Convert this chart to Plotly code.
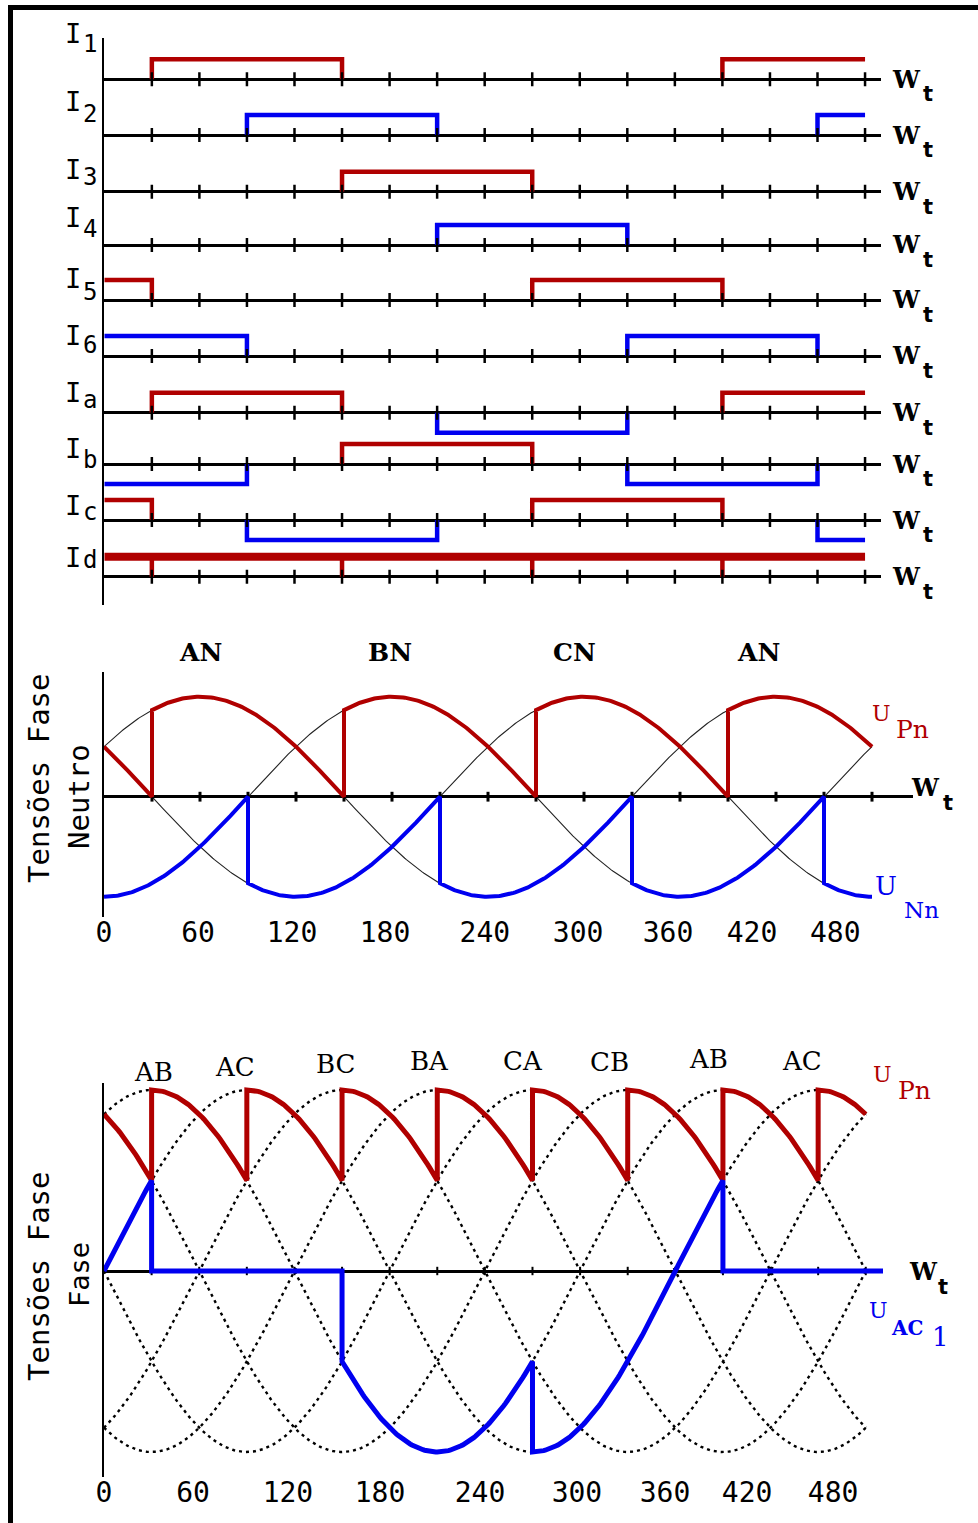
import numpy as np
import plotly.graph_objects as go

W, H = 978, 1523
RED = "#B00000"
BLUE = "#0000F0"

# ---------------- data ----------------
# thyristor currents I1..I6: start of conduction (deg), conduction width, period
fire_start = [30, 90, 150, 210, 270, 330]
conduction_width = 120
period = 360
x_end = 480
row_names = ["1", "2", "3", "4", "5", "6", "a", "b", "c", "d"]
# phase currents: (positive-group thyristor, negative-group thyristor)
phase_pairs = {"a": (1, 4), "b": (3, 6), "c": (5, 2)}
Id_level = 1.0
Id_marks = [30, 150, 270, 390]
tick_angles = list(range(30, 481, 30))

# phase-to-neutral voltages: peak angle (deg) and conducting phase per interval
phase_peak = {"AN": 60, "BN": 180, "CN": 300}
UPn_segments = [(0, 30, "CN"), (30, 150, "AN"), (150, 270, "BN"), (270, 390, "CN"), (390, 480, "AN")]
UNn_segments = [(0, 90, "BN"), (90, 210, "CN"), (210, 330, "AN"), (330, 450, "BN"), (450, 480, "CN")]
phase_label_text = ["AN", "BN", "CN", "AN"]
phase_label_pos = [60, 179, 294, 409]

# line-to-line voltages: peak angle (deg)
line_peak = {"AB": 30, "AC": 90, "BC": 150, "BA": 210, "CA": 270, "CB": 330}
UPn_ll_segments = [(0, 30, "CB"), (30, 90, "AB"), (90, 150, "AC"), (150, 210, "BC"), (210, 270, "BA"),
                   (270, 330, "CA"), (330, 390, "CB"), (390, 450, "AB"), (450, 480, "AC")]
UAC1_segments = [(0, 30, "AC"), (30, 150, None), (150, 270, "AB"), (270, 390, "AC"), (390, 491, None)]
ll_label_text = ["AB", "AC", "BC", "BA", "CA", "CB", "AB", "AC"]
ll_label_pos = [31, 82.5, 145.6, 205.4, 264, 318.8, 381.2, 439.8]

tick_text = ["0", "60", "120", "180", "240", "300", "360", "420", "480"]
tick_pos_mid = [0, 58.8, 117.5, 175.6, 238, 296.3, 352.5, 405, 457]
tick_pos_bot = [0, 56.1, 115.9, 173.9, 236.9, 298, 353.5, 405.2, 459.4]

# ---------------- layout geometry (pixels) ----------------
row_base = [79.3, 135, 191.7, 245, 300, 356, 412.7, 464, 520, 576.7]
row_half = 26
row_unit = 20
label_I_y = [33, 102, 170, 217, 278, 336, 393, 448, 505, 557]
label_sub_y = [44, 114, 177, 229, 292, 345, 400, 460, 512, 560]
ll_label_y = [1072, 1067, 1064, 1061, 1061, 1062, 1059, 1061]


def pxx(x):
    return x / W


def pxy(y):
    return 1 - y / H


def intervals(k):
    s = fire_start[k - 1]
    out = []
    for m in (-1, 0, 1):
        a, b = s + m * period, s + m * period + conduction_width
        a2, b2 = max(a, 0), min(b, x_end)
        if a2 < b2:
            out.append((a2, b2))
    return out


def pulse_path(ivs, level):
    xs, ys = [], []
    for a, b in ivs:
        if a > 0:
            xs += [a]
            ys += [0]
        xs += [a, b]
        ys += [level, level]
        if b < x_end:
            xs += [b]
            ys += [0]
        xs.append(None)
        ys.append(None)
    return xs, ys


def seg_curve(segs, peaks):
    xs, ys = [], []
    for a, b, name in segs:
        th = np.linspace(a, b, int(b - a) + 1)
        if name is None:
            v = np.zeros_like(th)
        else:
            v = np.cos(np.radians(th - peaks[name]))
        xs += list(th)
        ys += list(v)
    return xs, ys


TICK = dict(symbol="line-ns-open", color="black")

fig = go.Figure()

# ---------------- top: current pulses ----------------
for i, name in enumerate(row_names):
    ya = "y" if i == 0 else f"y{i + 1}"
    if name.isdigit():
        k = int(name)
        xs, ys = pulse_path(intervals(k), 1)
        fig.add_trace(go.Scatter(x=xs, y=ys, mode="lines", xaxis="x", yaxis=ya,
                                 line=dict(color=RED if k % 2 else BLUE, width=4.5)))
    elif name in phase_pairs:
        p, n = phase_pairs[name]
        xs, ys = pulse_path(intervals(p), 1)
        fig.add_trace(go.Scatter(x=xs, y=ys, mode="lines", xaxis="x", yaxis=ya,
                                 line=dict(color=RED, width=4.5)))
        xs, ys = pulse_path(intervals(n), -1)
        fig.add_trace(go.Scatter(x=xs, y=ys, mode="lines", xaxis="x", yaxis=ya,
                                 line=dict(color=BLUE, width=4.5)))
    else:
        xs, ys = [], []
        for a in Id_marks:
            xs += [a, a, None]
            ys += [0, Id_level, None]
        fig.add_trace(go.Scatter(x=xs, y=ys, mode="lines", xaxis="x", yaxis=ya,
                                 line=dict(color=RED, width=4.5)))
        fig.add_trace(go.Scatter(x=[0, x_end], y=[Id_level, Id_level], mode="lines", xaxis="x", yaxis=ya,
                                 line=dict(color=RED, width=8)))
    fig.add_trace(go.Scatter(x=tick_angles, y=[0] * len(tick_angles), mode="markers", xaxis="x", yaxis=ya,
                             marker=dict(TICK, size=10, line=dict(color="black", width=2.5))))

fig.add_trace(go.Scatter(x=[], y=[], xaxis="x", yaxis="y11"))

# ---------------- middle: phase-neutral voltages ----------------
th = np.linspace(0, 480, 481)
for ph, pk in phase_peak.items():
    fig.add_trace(go.Scatter(x=th, y=np.cos(np.radians(th - pk)), mode="lines", xaxis="x2", yaxis="y12",
                             line=dict(color="#222222", width=1.1)))
fig.add_trace(go.Scatter(x=tick_angles, y=[0] * len(tick_angles), mode="markers", xaxis="x2", yaxis="y12",
                         marker=dict(TICK, size=7, line=dict(color="black", width=3))))
xs, ys = seg_curve(UPn_segments, phase_peak)
fig.add_trace(go.Scatter(x=xs, y=ys, mode="lines", xaxis="x2", yaxis="y12", line=dict(color=RED, width=4)))
xs, ys = seg_curve(UNn_segments, phase_peak)
fig.add_trace(go.Scatter(x=xs, y=ys, mode="lines", xaxis="x2", yaxis="y12", line=dict(color=BLUE, width=4)))

# ---------------- bottom: line-line voltages ----------------
for nm, pk in line_peak.items():
    fig.add_trace(go.Scatter(x=th, y=np.cos(np.radians(th - pk)), mode="lines", xaxis="x3", yaxis="y13",
                             line=dict(color="black", width=2.4, dash="3px,4px")))
fig.add_trace(go.Scatter(x=tick_angles, y=[0] * len(tick_angles), mode="markers", xaxis="x3", yaxis="y13",
                         marker=dict(TICK, size=6, line=dict(color="black", width=2))))
xs, ys = seg_curve(UPn_ll_segments, line_peak)
fig.add_trace(go.Scatter(x=xs, y=ys, mode="lines", xaxis="x3", yaxis="y13", line=dict(color=RED, width=5)))
xs, ys = seg_curve(UAC1_segments, line_peak)
fig.add_trace(go.Scatter(x=xs, y=ys, mode="lines", xaxis="x3", yaxis="y13", line=dict(color=BLUE, width=5)))

# ---------------- axes ----------------
noax = dict(showgrid=False, zeroline=False, showticklabels=False, ticks="", showline=False, fixedrange=True,
            automargin=False)
lay = {}
lay["xaxis"] = dict(noax, domain=[pxx(104.3), pxx(880.9)], range=[0, 490], anchor="y11")
for i, b in enumerate(row_base):
    key = "yaxis" if i == 0 else f"yaxis{i + 1}"
    lay[key] = dict(noax, domain=[pxy(b + row_half), pxy(b - row_half)],
                    range=[-row_half / row_unit, row_half / row_unit], anchor="x",
                    zeroline=True, zerolinecolor="black", zerolinewidth=3)
lay["yaxis11"] = dict(noax, domain=[pxy(605), pxy(38)], range=[0, 1], anchor="x",
                      showline=True, linecolor="black", linewidth=2)
lay["xaxis2"] = dict(noax, domain=[pxx(104), pxx(913)], range=[0, (913 - 104) / 1.6], anchor="y12",
                     showticklabels=True, tickvals=tick_pos_mid, ticktext=tick_text, ticklabelstandoff=-4,
                     tickfont=dict(family="DejaVu Sans Mono", size=28, color="black"))
lay["yaxis12"] = dict(noax, domain=[pxy(917), pxy(672)], range=[-(917 - 796.7) / 100, (796.7 - 672) / 100],
                      anchor="x2", showline=True, linecolor="black", linewidth=2,
                      zeroline=True, zerolinecolor="black", zerolinewidth=3)
lay["xaxis3"] = dict(noax, domain=[pxx(104), pxx(883)], range=[0, (883 - 104) / 1.587], anchor="y13",
                     showticklabels=True, tickvals=tick_pos_bot, ticktext=tick_text, ticklabelstandoff=-4,
                     tickfont=dict(family="DejaVu Sans Mono", size=28, color="black"))
lay["yaxis13"] = dict(noax, domain=[pxy(1477), pxy(1083)], range=[-(1477 - 1271) / 181, (1271 - 1083) / 181],
                      anchor="x3", showline=True, linecolor="black", linewidth=2,
                      zeroline=True, zerolinecolor="black", zerolinewidth=3)

# ---------------- text ----------------
ann = []


def txt(s, x, y, size, color="black", family="DejaVu Serif", bold=False, angle=0, xref="paper"):
    ann.append(dict(text=f"<b>{s}</b>" if bold else s, x=x if xref != "paper" else pxx(x), y=pxy(y),
                    xref=xref, yref="paper", showarrow=False, xanchor="center", yanchor="middle",
                    textangle=angle, font=dict(size=size, color=color, family=family)))


for i, name in enumerate(row_names):
    txt("I", 72.5, label_I_y[i], 27, family="DejaVu Sans Mono")
    txt(name, 90, label_sub_y[i], 24, family="DejaVu Sans Mono")
    txt("W", 906, row_base[i], 24, bold=True)
    txt("t", 928, row_base[i] + 15, 21, family="DejaVu Sans", bold=True)

for s, p in zip(phase_label_text, phase_label_pos):
    txt(s, p, 652, 25, bold=True, xref="x2")
for s, p, yy in zip(ll_label_text, ll_label_pos, ll_label_y):
    txt(s, p, yy, 26, xref="x3")

txt("Tensões Fase", 39, 778, 29, family="DejaVu Sans Mono", angle=-90)
txt("Neutro", 79, 797, 29, family="DejaVu Sans Mono", angle=-90)
txt("W", 925, 787, 24, bold=True)
txt("t", 948, 803, 21, family="DejaVu Sans", bold=True)
txt("U", 881, 713, 22, color=RED)
txt("Pn", 912, 729, 25, color=RED)
txt("U", 886, 886, 26, color=BLUE)
txt("Nn", 921, 910, 23, color=BLUE)

txt("Tensões Fase", 39, 1276, 29, family="DejaVu Sans Mono", angle=-90)
txt("Fase", 79, 1275, 27, family="DejaVu Sans Mono", angle=-90)
txt("W", 923, 1271, 24, bold=True)
txt("t", 943, 1287, 21, family="DejaVu Sans", bold=True)
txt("U", 882, 1074, 22, color=RED)
txt("Pn", 914, 1090, 25, color=RED)
txt("U", 878, 1310, 22, color=BLUE)
txt("AC", 907, 1328, 20, color=BLUE, bold=True)
txt("1", 940, 1337, 26, color=BLUE)

shapes = [
    dict(type="line", xref="paper", yref="paper", x0=pxx(10.5), x1=pxx(10.5), y0=pxy(5), y1=pxy(1523),
         line=dict(color="black", width=5)),
    dict(type="line", xref="paper", yref="paper", x0=pxx(8), x1=pxx(978), y0=pxy(7.5), y1=pxy(7.5),
         line=dict(color="black", width=5)),
]

fig.update_layout(width=W, height=H, autosize=False, margin=dict(l=0, r=0, t=0, b=0, pad=0, autoexpand=False),
                  paper_bgcolor="white", plot_bgcolor="rgba(0,0,0,0)", showlegend=False,
                  annotations=ann, shapes=shapes, **lay)

fig.write_html("out.html", config={"displayModeBar": False})
